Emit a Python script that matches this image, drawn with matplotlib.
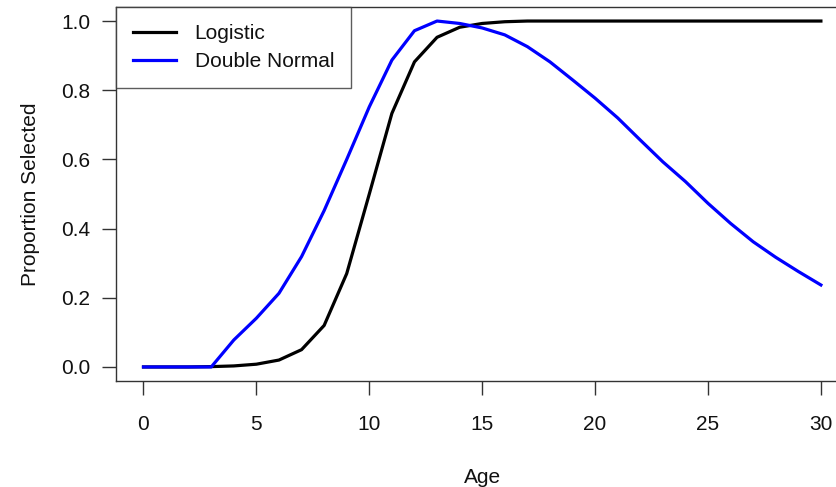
import matplotlib
matplotlib.use("Agg")
import matplotlib.pyplot as plt

ages = list(range(0, 31))
logistic = [0.0, 0.0, 0.0, 0.001, 0.003, 0.008, 0.02, 0.05, 0.12, 0.27, 0.5,
            0.733, 0.882, 0.953, 0.982, 0.993, 0.998, 1.0, 1.0, 1.0, 1.0,
            1.0, 1.0, 1.0, 1.0, 1.0, 1.0, 1.0, 1.0, 1.0, 1.0]
double_normal = [0.0, 0.0, 0.0, 0.0, 0.078, 0.141, 0.213, 0.319, 0.452, 0.60, 0.752,
                 0.887, 0.972, 1.0, 0.993, 0.98, 0.96, 0.926, 0.882, 0.83, 0.777,
                 0.72, 0.656, 0.593, 0.536, 0.473, 0.415, 0.362, 0.317, 0.276, 0.237]
series_names = ["Logistic", "Double Normal"]
x_ticks = [0, 5, 10, 15, 20, 25, 30]
y_ticks = [0.0, 0.2, 0.4, 0.6, 0.8, 1.0]
y_tick_labels = ["0.0", "0.2", "0.4", "0.6", "0.8", "1.0"]

plt.rcParams['font.family'] = ['Liberation Sans', 'DejaVu Sans']
FS = 15

W, H = 837, 487
fig = plt.figure(figsize=(W / 100, H / 100), dpi=100)
left, right, top, bottom = 116.4, 848.0, 7.2, 380.8
ax = fig.add_axes([left / W, 1 - bottom / H, (right - left) / W, (bottom - top) / H])

ax.plot(ages, logistic, color="black", lw=2.3, label=series_names[0], solid_joinstyle="round")
ax.plot(ages, double_normal, color="#0000ff", lw=2.3, label=series_names[1], solid_joinstyle="round")

ax.set_xlim(-1.2, 31.2)
ax.set_ylim(-0.04, 1.04)
ax.set_xticks(x_ticks)
ax.set_xticklabels([str(t) for t in x_ticks])
ax.set_yticks(y_ticks)
ax.set_yticklabels(y_tick_labels)

spine_col = "#333333"
for s in ax.spines.values():
    s.set_color(spine_col)
    s.set_linewidth(1.0)
ax.tick_params(axis="both", direction="out", length=9.8, width=1.0, color=spine_col,
               labelsize=FS, pad=9, labelcolor="#111111")
ax.tick_params(axis="x", pad=15)

ax.set_xlabel("Age", fontsize=FS, labelpad=24, color="#111111")
ax.set_ylabel("Proportion Selected", fontsize=FS, labelpad=15, color="#111111")

leg = ax.legend(loc="upper left", bbox_to_anchor=(0, 1), borderaxespad=0,
                fancybox=False, frameon=True, fontsize=FS, handlelength=2.05,
                handletextpad=0.9, labelspacing=0.46, borderpad=0.8)
leg.get_frame().set_edgecolor(spine_col)
leg.get_frame().set_linewidth(1.0)
for t in leg.get_texts():
    t.set_color("#111111")

fig.savefig("out.png", dpi=100)
